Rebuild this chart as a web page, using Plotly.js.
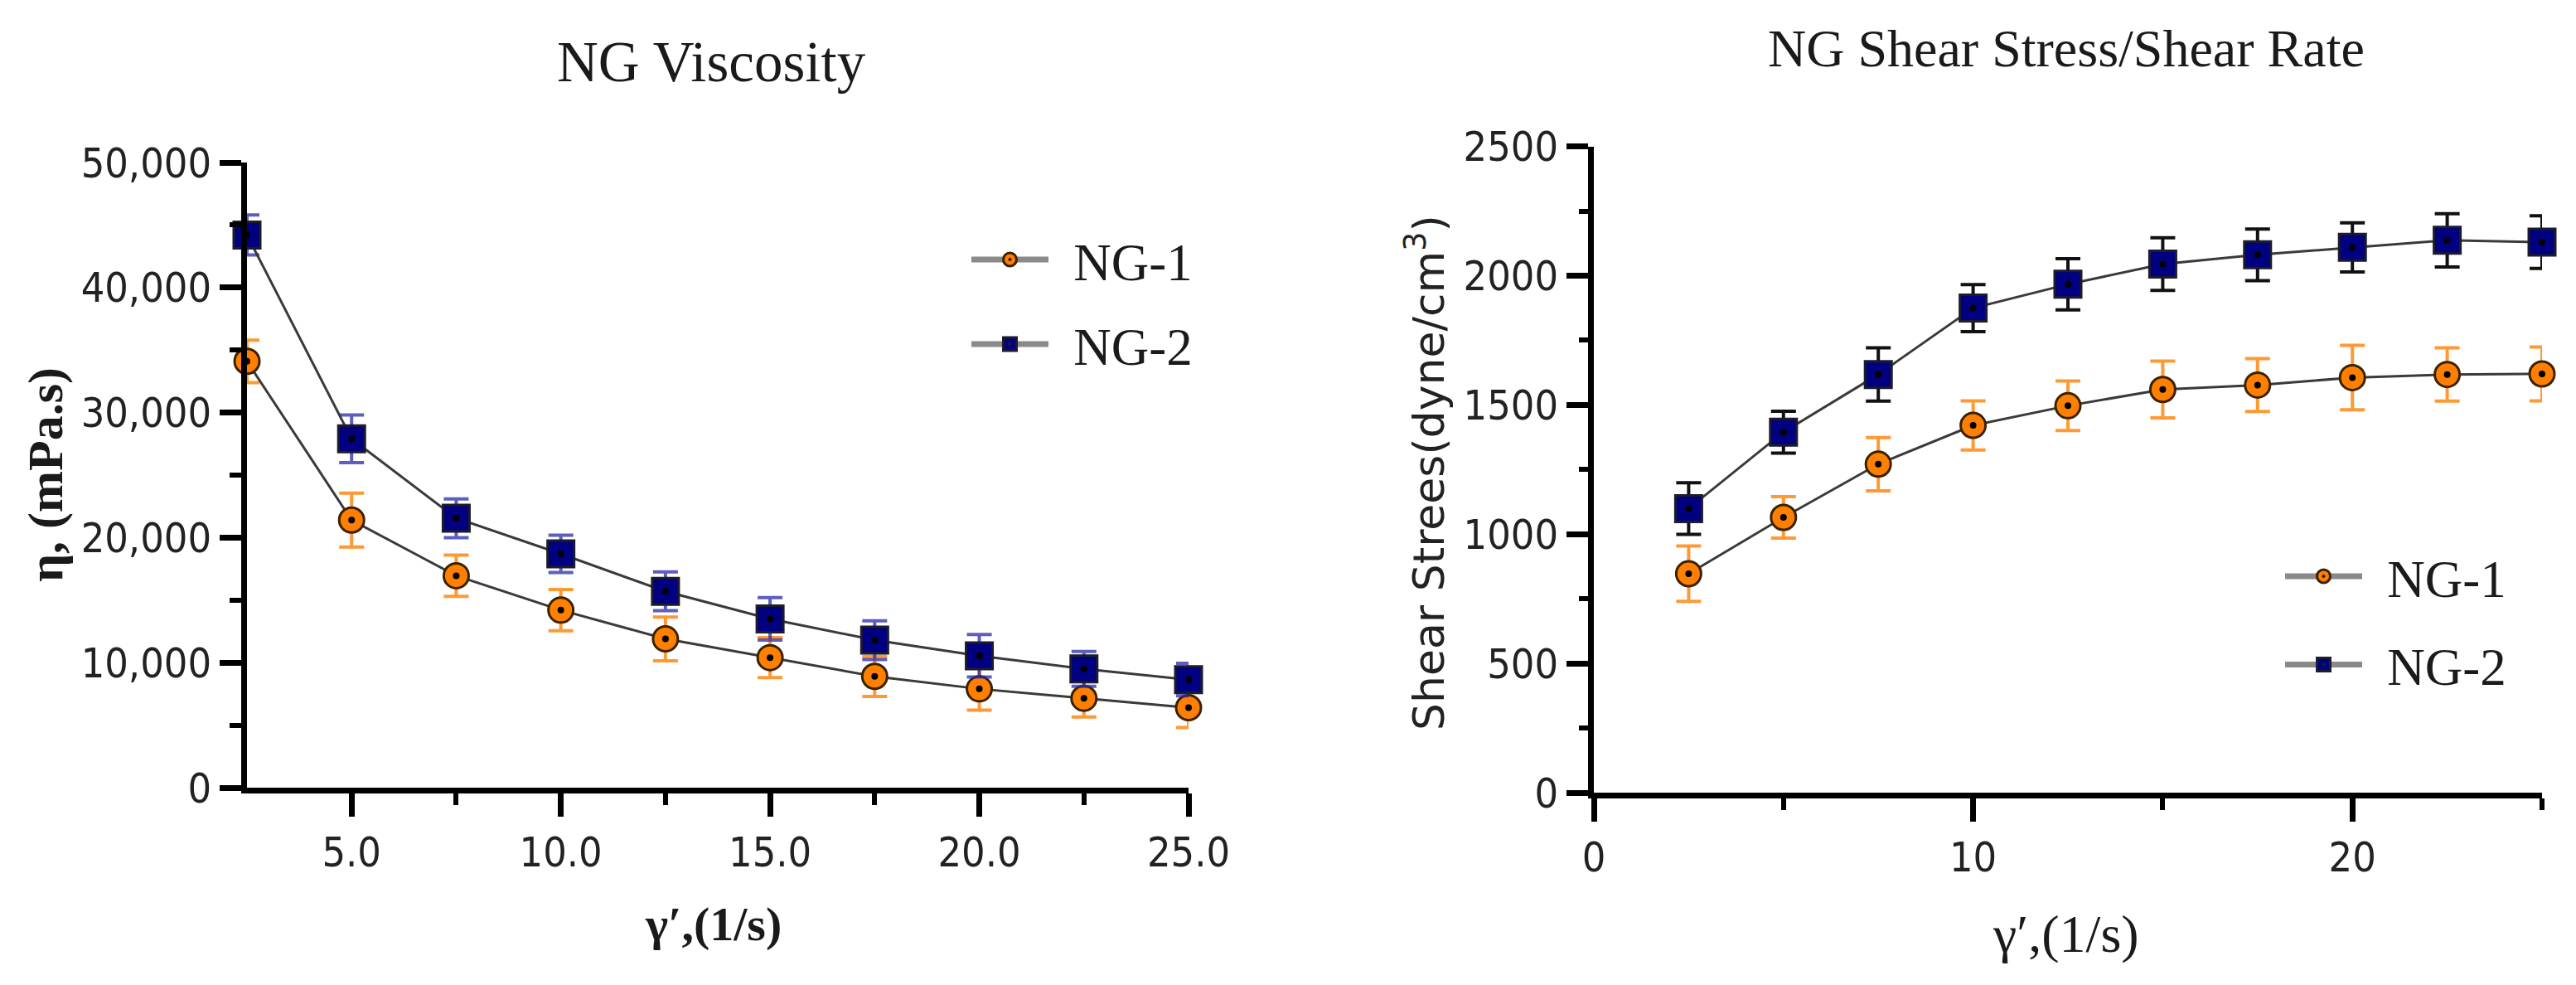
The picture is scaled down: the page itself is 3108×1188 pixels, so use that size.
<!DOCTYPE html>
<html><head><meta charset="utf-8">
<script src="https://cdn.plot.ly/plotly-3.0.1.min.js"></script>
<style>html,body{margin:0;padding:0;background:#fff;}#chart{width:3108px;height:1188px;}</style>
</head><body><div id="chart"></div>
<script>
// ---- data ----
const shearRate = [2.5, 5, 7.5, 10, 12.5, 15, 17.5, 20, 22.5, 25];
const seriesNames = ['NG-1', 'NG-2'];

const viscNG1 = [34100, 21400, 16950, 14200, 11900, 10400, 8900, 7900, 7150, 6400];
const viscNG1Err = [1700, 2150, 1650, 1650, 1750, 1600, 1600, 1700, 1500, 1600];
const viscNG2 = [44200, 27900, 21550, 18700, 15700, 13500, 11800, 10550, 9500, 8640];
const viscNG2Err = [1600, 1900, 1550, 1500, 1550, 1700, 1550, 1700, 1400, 1300];

const stressNG1 = [847, 1065, 1271, 1421, 1497, 1560, 1577, 1606, 1618, 1620];
const stressNG1Err = [107, 80, 103, 95, 96, 110, 102, 125, 103, 104];
const stressNG2 = [1099, 1395, 1618, 1875, 1967, 2045, 2081, 2110, 2137, 2130];
const stressNG2Err = [100, 81, 103, 91, 99, 102, 100, 95, 103, 102];

const viscXTickVals = [5, 10, 15, 20, 25];
const viscXTickText = ['5.0', '10.0', '15.0', '20.0', '25.0'];
const viscXMinorVals = [7.5, 12.5, 17.5, 22.5];
const viscYTickVals = [0, 10000, 20000, 30000, 40000, 50000];
const viscYTickText = ['0', '10,000', '20,000', '30,000', '40,000', '50,000'];

const stressXTickVals = [0, 10, 20];
const stressXTickText = ['0', '10', '20'];
const stressXMinorVals = [5, 15, 25];
const stressYTickVals = [0, 500, 1000, 1500, 2000, 2500];
const stressYTickText = ['0', '500', '1000', '1500', '2000', '2500'];

const titles = {
  visc: 'NG Viscosity',
  stress: 'NG Shear Stress/Shear Rate',
  viscY: 'η, (mPa.s)',
  viscX: 'γ′,(1/s)',
  stressY: 'Shear Strees(dyne/cm<sup>3</sup>)',
  stressX: 'γ′,(1/s)'
};

// ---- helpers / styles ----
const W = 3108, H = 1188;
const px = v => v / W;
const py = v => 1 - v / H;
const SERIF = 'Liberation Serif, Times New Roman, serif';
const SANS = 'DejaVu Sans Condensed, DejaVu Sans, sans-serif';
const TXT = '#1a1a1a';
const GAP = '\u2009\u2009'; // small gap between legend key and label

const ORANGE = '#ff8000';
const NAVY = '#000080';
const circleMarker = {symbol: 'circle', size: 30, color: ORANGE, line: {color: '#3a2200', width: 3}};
const squareMarker = {symbol: 'square', size: 32, color: NAVY, line: {color: '#1c1c2c', width: 3}};
const dataLine = {color: '#3a3a3a', width: 3};

function series(x, y, err, marker, errColor, xa, ya) {
  return {
    type: 'scatter', mode: 'lines+markers', x: x, y: y, xaxis: xa, yaxis: ya,
    line: dataLine, marker: marker, cliponaxis: false, showlegend: false, hoverinfo: 'skip',
    error_y: {type: 'data', array: err, visible: true, color: errColor, thickness: 4, width: 15}
  };
}
function dots(x, y, xa, ya) {
  return {type: 'scatter', mode: 'markers', x: x, y: y, xaxis: xa, yaxis: ya, cliponaxis: false,
    showlegend: false, hoverinfo: 'skip', marker: {size: 8, color: '#000', symbol: 'circle'}};
}
function legendItem(name, marker, legendId, xa, ya) {
  return {type: 'scatter', mode: 'lines+markers', x: [null], y: [null], xaxis: xa, yaxis: ya,
    name: GAP + name, legend: legendId, showlegend: true,
    line: {color: '#8a8a8a', width: 7},
    marker: Object.assign({}, marker, {symbol: marker.symbol + '-dot', line: {color: marker.line.color, width: 3}})};
}

const traces = [
  series(shearRate, viscNG1, viscNG1Err, circleMarker, 'rgba(255,128,0,0.8)', 'x', 'y'),
  series(shearRate, viscNG2, viscNG2Err, squareMarker, 'rgba(40,40,170,0.75)', 'x', 'y'),
  dots(shearRate, viscNG1, 'x', 'y'),
  dots(shearRate, viscNG2, 'x', 'y'),
  series(shearRate, stressNG1, stressNG1Err, circleMarker, 'rgba(255,128,0,0.8)', 'x2', 'y2'),
  series(shearRate, stressNG2, stressNG2Err, squareMarker, '#111111', 'x2', 'y2'),
  dots(shearRate, stressNG1, 'x2', 'y2'),
  dots(shearRate, stressNG2, 'x2', 'y2'),
  legendItem(seriesNames[0], circleMarker, 'legend', 'x', 'y'),
  legendItem(seriesNames[1], squareMarker, 'legend2', 'x', 'y'),
  legendItem(seriesNames[0], circleMarker, 'legend3', 'x2', 'y2'),
  legendItem(seriesNames[1], squareMarker, 'legend4', 'x2', 'y2')
];

const tickFont = {family: SANS, size: 50, color: '#222'};
const baseAxis = {
  showline: true, linewidth: 7, linecolor: '#000', showgrid: false, zeroline: false,
  ticks: 'outside', tickwidth: 7, tickcolor: '#000', tickmode: 'array',
  tickfont: tickFont, fixedrange: true
};

const legendBase = {
  xanchor: 'left', yanchor: 'middle', bgcolor: 'rgba(0,0,0,0)', borderwidth: 0,
  font: {family: SERIF, size: 63, color: TXT}, itemwidth: 93, itemclick: false, itemdoubleclick: false
};

const layout = {
  width: W, height: H, margin: {l: 0, r: 0, t: 0, b: 0},
  paper_bgcolor: '#fff', plot_bgcolor: 'rgba(0,0,0,0)', showlegend: true,
  xaxis: Object.assign({}, baseAxis, {
    domain: [px(298), px(1434)], range: [2.5, 25], anchor: 'y',
    ticklen: 28, tickvals: viscXTickVals, ticktext: viscXTickText,
    minor: {tickmode: 'array', tickvals: viscXMinorVals, ticks: 'outside', ticklen: 14, tickwidth: 6, tickcolor: '#000'}
  }),
  yaxis: Object.assign({}, baseAxis, {
    domain: [py(950), py(196)], range: [0, 50000], anchor: 'x',
    ticklen: 26, tickvals: viscYTickVals, ticktext: viscYTickText,
    minor: {tickmode: 'linear', tick0: 0, dtick: 5000, ticks: 'outside', ticklen: 14, tickwidth: 6, tickcolor: '#000'}
  }),
  xaxis2: Object.assign({}, baseAxis, {
    domain: [px(1923), px(3067)], range: [0, 25], anchor: 'y2',
    ticklen: 28, tickvals: stressXTickVals, ticktext: stressXTickText,
    minor: {tickmode: 'array', tickvals: stressXMinorVals, ticks: 'outside', ticklen: 14, tickwidth: 6, tickcolor: '#000'}
  }),
  yaxis2: Object.assign({}, baseAxis, {
    domain: [py(956), py(176.7)], range: [0, 2500], anchor: 'x2',
    ticklen: 26, tickvals: stressYTickVals, ticktext: stressYTickText,
    minor: {tickmode: 'linear', tick0: 0, dtick: 250, ticks: 'outside', ticklen: 11, tickwidth: 6, tickcolor: '#000'}
  }),
  legend: Object.assign({}, legendBase, {x: px(1167), y: py(313)}),
  legend2: Object.assign({}, legendBase, {x: px(1167), y: py(415)}),
  legend3: Object.assign({}, legendBase, {x: px(2752), y: py(695)}),
  legend4: Object.assign({}, legendBase, {x: px(2752), y: py(801.5)}),
  annotations: [
    {text: titles.visc, x: px(858), y: py(74.5), xref: 'paper', yref: 'paper', xanchor: 'center', yanchor: 'middle', showarrow: false,
      font: {family: SERIF, size: 69, color: TXT}},
    {text: titles.stress, x: px(2493), y: py(59), xref: 'paper', yref: 'paper', xanchor: 'center', yanchor: 'middle', showarrow: false,
      font: {family: SERIF, size: 64, color: TXT}},
    {text: titles.viscX, x: px(860), y: py(1114), xref: 'paper', yref: 'paper', xanchor: 'center', yanchor: 'middle', showarrow: false,
      font: {family: SERIF, size: 58, color: TXT, weight: 'bold'}},
    {text: titles.stressX, x: px(2492), y: py(1126), xref: 'paper', yref: 'paper', xanchor: 'center', yanchor: 'middle', showarrow: false,
      font: {family: SERIF, size: 64, color: TXT}},
    {text: titles.viscY, x: px(55), y: py(573), xref: 'paper', yref: 'paper', xanchor: 'center', yanchor: 'middle', showarrow: false,
      textangle: -90, font: {family: SERIF, size: 60, color: TXT, weight: 'bold'}},
    {text: titles.stressY, x: px(1720), y: py(570), xref: 'paper', yref: 'paper', xanchor: 'center', yanchor: 'middle', showarrow: false,
      textangle: -90, font: {family: 'DejaVu Sans, sans-serif', size: 52, color: '#222'}}
  ]
};

Plotly.newPlot('chart', traces, layout, {staticPlot: true, displayModeBar: false});
</script>
</body></html>
